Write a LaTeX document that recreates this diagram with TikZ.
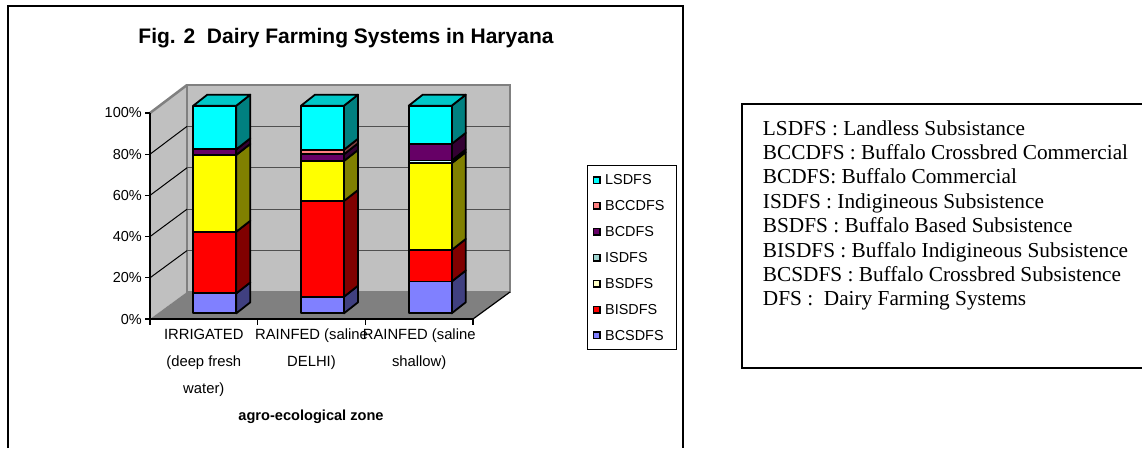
\documentclass[tikz,border=0pt]{standalone}
\usepackage{fontspec}
\setmainfont{Liberation Serif}
\newfontfamily\chartfont{Liberation Sans}
\definecolor{wall}{HTML}{C0C0C0}
\definecolor{wallrim}{HTML}{808080}
\definecolor{floorgray}{HTML}{808080}
\definecolor{gridgray}{HTML}{505050}
\definecolor{lsF}{HTML}{00FFFF}\definecolor{lsS}{HTML}{008080}\definecolor{lsT}{HTML}{00C8C8}
\definecolor{bccF}{HTML}{FF8080}\definecolor{bccS}{HTML}{804040}
\definecolor{bcF}{HTML}{660066}\definecolor{bcS}{HTML}{330033}
\definecolor{isF}{HTML}{CCFFFF}\definecolor{isS}{HTML}{668080}
\definecolor{bsF}{HTML}{FFFF00}\definecolor{bsS}{HTML}{808000}
\definecolor{bisF}{HTML}{FF0000}\definecolor{bisS}{HTML}{800000}
\definecolor{bcsF}{HTML}{8080FF}\definecolor{bcsS}{HTML}{404080}
\definecolor{lgIS}{HTML}{9FD4D0}\definecolor{lgBS}{HTML}{FFFFC4}
\tikzset{
  barface/.style={draw=black, line width=1.8pt, line join=round},
  axisline/.style={draw=black, line width=1.2pt},
  ticklabel/.style={font=\chartfont\fontsize{14.5}{17}\selectfont, inner sep=0pt},
  catlabel/.style={font=\chartfont\fontsize{14.8}{17}\selectfont, inner sep=0pt, anchor=base},
  legtext/.style={font=\chartfont\fontsize{14.4}{17}\selectfont, inner sep=0pt, anchor=west},
  swatch/.style={draw=black, line width=1.5pt, minimum size=6.5pt, inner sep=0pt},
  keytext/.style={font=\fontsize{21.3}{24.4}\selectfont, inner sep=0pt, anchor=base west},
}
% one coloured block of a stacked 3-D column: left x, from %, to %, front colour, side colour
\newcommand\barseg[5]{%
  \pgfmathsetmacro\yb{313.3-2.076*#2}%
  \pgfmathsetmacro\yt{313.3-2.076*#3}%
  \pgfmathsetmacro\xr{#1+43}%
  \filldraw[barface, fill=#5] (\xr,\yb) -- (\xr+14,\yb-11) -- (\xr+14,\yt-11) -- (\xr,\yt) -- cycle;
  \filldraw[barface, fill=#4] (#1,\yb) rectangle (\xr,\yt);
}
% lid of a column at 100 %
\newcommand\bartop[2]{%
  \filldraw[barface, fill=#2] (#1,105.7) -- (#1+14,94.7) -- (#1+57,94.7) -- (#1+43,105.7) -- cycle;
}
\begin{document}
\begin{tikzpicture}[x=1pt, y=-1pt]
\useasboundingbox (0,0) rectangle (1142,448);
\fill[white] (0,0) rectangle (1142,448);

% chart area frame
\draw[line width=1.5pt] (8,448) -- (8,6) -- (683,6) -- (683,448);
\node[font=\chartfont\bfseries\fontsize{21}{25}\selectfont, inner sep=0pt] (title) at (346,38) {Fig. 2\ \ Dairy Farming Systems in Haryana};

% walls and floor
\fill[wall] (150,319) -- (150,113) -- (187,85) -- (187,292) -- cycle;
\filldraw[fill=wall, draw=wallrim, line width=2.5pt] (187,85) rectangle (510,292);
\draw[wallrim, line width=2.5pt] (150,113) -- (187,85);
\fill[floorgray] (150,319) -- (473,319) -- (510,292) -- (187,292) -- cycle;
\draw[line width=1.2pt] (473,319) -- (510,292);
\foreach \p in {20,40,60,80} {
  \draw[gridgray, line width=1.2pt] (187,292-2.07*\p) -- (510,292-2.07*\p);
  \draw[black, line width=1pt] (150,319-2.06*\p) -- (187,292-2.07*\p);
}

% axes
\draw[axisline] (150,113) -- (150,319) -- (473,319);
\foreach \p in {0,20,...,100} {
  \draw[axisline] (145,319-2.06*\p) -- (150,319-2.06*\p);
  \node[ticklabel, anchor=east] (y\p) at (142,319-2.06*\p) {\p\%};
}
\foreach \x in {150,257.7,365.3,473} {
  \draw[axisline] (\x,319) -- (\x,325);
}

% column 1: irrigated
\barseg{193.3}{0}{9.6}{bcsF}{bcsS}
\barseg{193.3}{9.6}{39.3}{bisF}{bisS}
\barseg{193.3}{39.3}{76.3}{bsF}{bsS}
\barseg{193.3}{76.3}{79.0}{bcF}{bcS}
\barseg{193.3}{79.0}{100}{lsF}{lsS}
\bartop{193.3}{lsT}
% column 2: rainfed, saline Delhi
\barseg{301}{0}{8.0}{bcsF}{bcsS}
\barseg{301}{8.0}{54.1}{bisF}{bisS}
\barseg{301}{54.1}{73.4}{bsF}{bsS}
\barseg{301}{73.4}{76.6}{bcF}{bcS}
\barseg{301}{76.6}{78.8}{bccF}{bccS}
\barseg{301}{78.8}{100}{lsF}{lsS}
\bartop{301}{lsT}
% column 3: rainfed, saline shallow
\barseg{408.7}{0}{15.3}{bcsF}{bcsS}
\barseg{408.7}{15.3}{30.5}{bisF}{bisS}
\barseg{408.7}{30.5}{72.3}{bsF}{bsS}
\barseg{408.7}{72.3}{73.6}{isF}{isS}
\barseg{408.7}{73.6}{81.6}{bcF}{bcS}
\barseg{408.7}{81.6}{100}{lsF}{lsS}
\bartop{408.7}{lsT}

% category labels
\node[catlabel] (c1a) at (203.8,339) {IRRIGATED};
\node[catlabel] (c1b) at (203.8,366.5) {(deep fresh};
\node[catlabel] (c1c) at (203.8,393.5) {water)};
\node[catlabel] (c2a) at (311.5,339) {RAINFED (saline};
\node[catlabel] (c2b) at (311.5,366.5) {DELHI)};
\node[catlabel] (c3a) at (419.2,339) {RAINFED (saline};
\node[catlabel] (c3b) at (419.2,366.5) {shallow)};
\node[catlabel, font=\chartfont\bfseries\fontsize{14.6}{17}\selectfont] (xtitle) at (311,420) {agro-ecological zone};

% legend
\draw[line width=1pt] (587,165) rectangle (676,349);
\foreach \nm/\col [count=\i] in {LSDFS/lsF, BCCDFS/bccF, BCDFS/bcF, ISDFS/lgIS, BSDFS/lgBS, BISDFS/bisF, BCSDFS/bcsF} {
  \node[swatch, fill=\col] (sw\i) at (596.5,180+25.9*\i-25.9) {};
  \node[legtext] (lg\i) at (605,180+25.9*\i-25.9) {\nm};
}

% key to abbreviations
\draw[line width=1.5pt] (1142,104) -- (742,104) -- (742,368) -- (1142,368);
\foreach \t [count=\i] in {LSDFS : Landless Subsistance, BCCDFS : Buffalo Crossbred Commercial, BCDFS: Buffalo Commercial, ISDFS : Indigineous Subsistence, BSDFS : Buffalo Based Subsistence, BISDFS : Buffalo Indigineous Subsistence, BCSDFS : Buffalo Crossbred Subsistence, DFS :~ Dairy Farming Systems} {
  \node[keytext] (k\i) at (762.7,135+24.4*\i-24.4) {\t};
}
\end{tikzpicture}
\end{document}
